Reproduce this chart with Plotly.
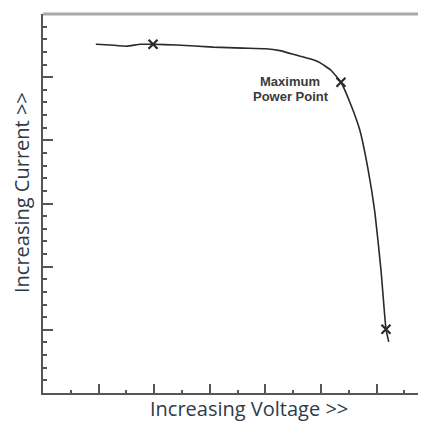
import plotly.graph_objects as go

# I-V curve (relative units)
voltage = [0.95, 1.20, 1.50, 1.75, 1.98, 2.40, 3.06, 3.60, 4.00, 4.26, 4.55, 4.80, 4.98, 5.18, 5.36, 5.54, 5.70, 5.85, 5.97, 6.08, 6.17, 6.22]
current = [5.52, 5.51, 5.49, 5.52, 5.52, 5.51, 5.475, 5.46, 5.45, 5.42, 5.35, 5.29, 5.23, 5.11, 4.92, 4.56, 4.16, 3.53, 2.86, 1.95, 1.01, 0.81]

marker_v = [1.98, 5.36, 6.17]
marker_i = [5.52, 4.92, 1.01]

mpp_line1 = "Maximum"
mpp_line2 = "Power Point"
x_title = "Increasing Voltage >>"
y_title = "Increasing Current >>"

# plot area position in page pixels (page has an 8px body margin)
L, R, T, B = 43, 426, 14, 393
W, H = R - L, B - T

fig = go.Figure()
fig.add_trace(go.Scatter(x=voltage, y=current, mode="lines",
                         line=dict(color="#2a2a2a", width=1.6, shape="spline", smoothing=0.4),
                         hoverinfo="skip"))
fig.add_trace(go.Scatter(x=marker_v, y=marker_i, mode="markers",
                         marker=dict(symbol="x-thin", size=9, line=dict(color="#2a2a2a", width=2.2)),
                         hoverinfo="skip"))

axis_common = dict(showgrid=False, zeroline=False, showticklabels=False,
                   showline=True, linecolor="#555", linewidth=2,
                   ticks="inside", tickcolor="#555", tickwidth=1.5)

fig.update_xaxes(range=[0, 6.89], dtick=1, tick0=0, ticklen=9,
                 minor=dict(ticks="inside", dtick=0.5, ticklen=3, tickcolor="#555", tickwidth=1.5),
                 **axis_common)
fig.update_yaxes(range=[0, 6], dtick=1, tick0=0, ticklen=10,
                 minor=dict(ticks="inside", dtick=0.2, ticklen=4, tickcolor="#555", tickwidth=1.5),
                 **axis_common)

fig.add_shape(type="line", xref="paper", yref="paper", x0=0, x1=1, y0=1, y1=1,
              line=dict(color="#aaaaaa", width=3))

mpp_font = dict(family="Liberation Sans, Arial", size=13, color="#3a3a3a")
fig.add_annotation(xref="paper", yref="paper", x=(290 - L) / W, y=(B - 82) / H,
                   text="<b>" + mpp_line1 + "</b>", showarrow=False,
                   xanchor="center", yanchor="middle", font=mpp_font)
fig.add_annotation(xref="paper", yref="paper", x=(291 - L) / W, y=(B - 96) / H,
                   text="<b>" + mpp_line2 + "</b>", showarrow=False,
                   xanchor="center", yanchor="middle", font=mpp_font)

title_font = dict(family="Open Sans, Noto Sans", size=20, color="#2f3b48")
fig.add_annotation(xref="paper", yref="paper", x=(249 - L) / W, y=-(424 - B) / H,
                   text=x_title, showarrow=False, xanchor="center", yanchor="bottom",
                   font=title_font)
fig.add_annotation(xref="paper", yref="paper", x=-(L - 21) / W, y=(B - 193) / H,
                   text=y_title, showarrow=False, textangle=-90,
                   xanchor="center", yanchor="middle", font=title_font)

fig.update_layout(width=418, height=415, margin=dict(l=L - 8, r=0, t=T - 8, b=415 - (B - 8)),
                  paper_bgcolor="white", plot_bgcolor="white", showlegend=False)

fig.write_html("out.html")
